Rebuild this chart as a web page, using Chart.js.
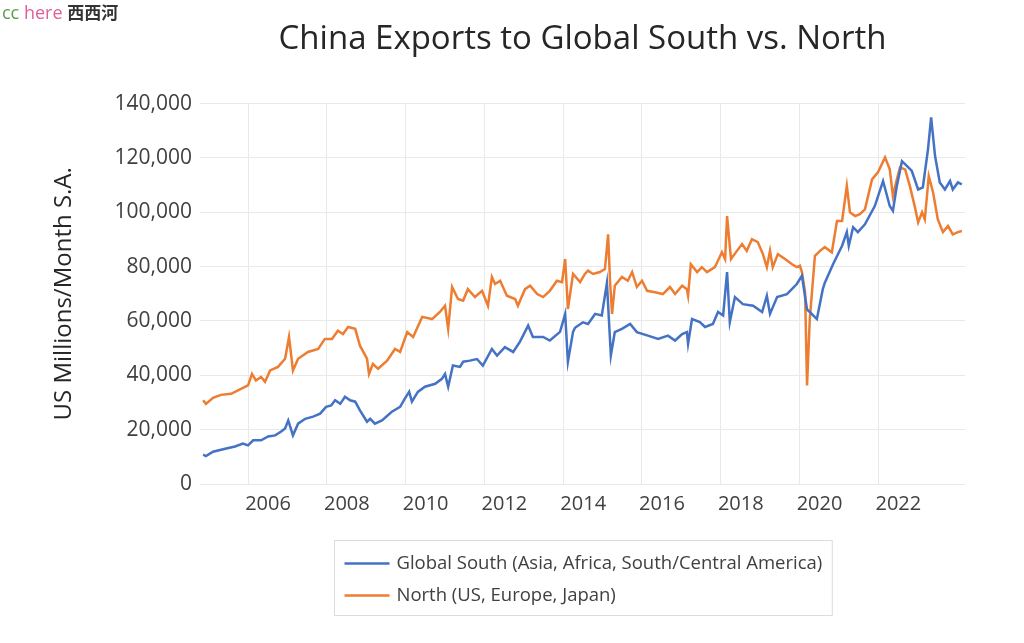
<!DOCTYPE html>
<html lang="en">
<head>
    <meta charset="UTF-8">
    <title>China Exports to Global South vs. North</title>
    <script src="https://cdn.jsdelivr.net/npm/chart.js@4.4.1/dist/chart.umd.min.js"></script>
    <style>
        html, body {
            margin: 0;
            padding: 0;
            background: #fff;
        }
        .wrap {
            position: relative;
            width: 1024px;
            height: 643px;
        }
        .mark {
            position: absolute;
            left: 2px;
            top: 0px;
            font-family: "Open Sans", sans-serif;
            font-size: 18px;
            line-height: 24px;
        }
        .mark .cc { color: #5a9e4b; }
        .mark .here { color: #e0609a; }
        .mark .cn { color: #333; font-family: "Noto Sans CJK SC", sans-serif; font-weight: 700; font-size: 17px; }
    </style>
</head>
<body>
<div class="wrap">
    <div class="mark"><span class="cc">cc</span> <span class="here">here</span> <span class="cn">西西河</span></div>
    <canvas id="chart" width="1024" height="643"></canvas>
</div>
<script>
    // x = decimal year
    const southYears = [2004.86, 2004.93, 2005.11, 2005.42, 2005.67, 2005.87, 2006.00, 2006.13, 2006.33, 2006.51,
        2006.69, 2006.84, 2006.94, 2007.02, 2007.14, 2007.27, 2007.45, 2007.65, 2007.83, 2007.98,
        2008.11, 2008.21, 2008.34, 2008.46, 2008.59, 2008.72, 2008.84, 2009.02, 2009.10, 2009.22,
        2009.40, 2009.65, 2009.86, 2009.98, 2010.09, 2010.16, 2010.31, 2010.49, 2010.75, 2010.92,
        2011.00, 2011.08, 2011.20, 2011.38, 2011.46, 2011.63, 2011.81, 2011.96, 2012.19, 2012.32,
        2012.52, 2012.73, 2012.90, 2013.11, 2013.23, 2013.49, 2013.66, 2013.92, 2014.05, 2014.12,
        2014.25, 2014.30, 2014.50, 2014.63, 2014.81, 2014.98, 2015.11, 2015.21, 2015.31, 2015.49,
        2015.70, 2015.87, 2016.15, 2016.41, 2016.66, 2016.84, 2017.02, 2017.14, 2017.17, 2017.27,
        2017.47, 2017.60, 2017.80, 2017.93, 2018.06, 2018.16, 2018.23, 2018.36, 2018.56, 2018.82,
        2019.05, 2019.17, 2019.25, 2019.43, 2019.68, 2019.93, 2020.06, 2020.19, 2020.26, 2020.44,
        2020.59, 2020.64, 2020.85, 2021.08, 2021.20, 2021.25, 2021.36, 2021.48, 2021.66, 2021.91,
        2022.12, 2022.29, 2022.37, 2022.47, 2022.60, 2022.73, 2022.85, 2023.01, 2023.13, 2023.26,
        2023.34, 2023.44, 2023.56, 2023.69, 2023.82, 2023.89, 2024.02, 2024.12];
    const southValues = [10800, 10300, 11900, 13000, 13800, 14900, 14200, 16100, 16100, 17500,
        17900, 19300, 20400, 23400, 17900, 22200, 24000, 24800, 25900, 28400,
        28900, 30800, 29500, 32100, 30800, 30300, 27100, 22900, 24000, 22200,
        23400, 26600, 28400, 31400, 33900, 30300, 33900, 35800, 36900, 38700,
        40500, 35800, 43600, 43100, 45000, 45400, 46000, 43600, 49700, 47300,
        50400, 48600, 52300, 58300, 54100, 54100, 52800, 56000, 62600, 45000,
        56000, 57500, 59500, 58900, 62600, 62000, 74000, 47300, 55900, 57100,
        58900, 55900, 54600, 53400, 54600, 52800, 55200, 55900, 51600, 60700,
        59600, 57800, 58900, 63300, 62000, 78000, 59600, 68800, 66200, 65600,
        63300, 69300, 62600, 68800, 69900, 73600, 76600, 64200, 63300, 60700,
        71700, 74000, 80900, 87700, 92700, 87700, 94500, 92700, 95600, 102300,
        111500, 102300, 100500, 109700, 118800, 117000, 115200, 108400, 109200, 123100,
        134900, 120700, 111000, 108400, 111500, 108400, 111000, 110300];

    const northYears = [2004.86, 2004.93, 2005.11, 2005.31, 2005.57, 2005.82, 2006.00, 2006.10, 2006.20, 2006.33,
        2006.43, 2006.56, 2006.76, 2006.94, 2007.04, 2007.14, 2007.27, 2007.52, 2007.78, 2007.95,
        2008.13, 2008.28, 2008.41, 2008.54, 2008.72, 2008.84, 2009.02, 2009.07, 2009.17, 2009.30,
        2009.53, 2009.73, 2009.86, 2010.04, 2010.19, 2010.42, 2010.67, 2010.87, 2011.00, 2011.08,
        2011.18, 2011.33, 2011.46, 2011.58, 2011.76, 2011.94, 2012.09, 2012.19, 2012.27, 2012.40,
        2012.57, 2012.78, 2012.85, 2013.03, 2013.16, 2013.34, 2013.49, 2013.66, 2013.84, 2013.97,
        2014.05, 2014.12, 2014.25, 2014.43, 2014.55, 2014.63, 2014.76, 2014.93, 2015.06, 2015.14,
        2015.19, 2015.24, 2015.31, 2015.49, 2015.64, 2015.75, 2015.87, 2016.00, 2016.13, 2016.33,
        2016.53, 2016.71, 2016.84, 2017.02, 2017.14, 2017.17, 2017.24, 2017.40, 2017.52, 2017.65,
        2017.85, 2018.03, 2018.11, 2018.16, 2018.26, 2018.41, 2018.54, 2018.66, 2018.79, 2018.94,
        2019.07, 2019.17, 2019.25, 2019.32, 2019.45, 2019.63, 2019.81, 2019.93, 2020.01, 2020.06,
        2020.14, 2020.19, 2020.26, 2020.39, 2020.52, 2020.64, 2020.77, 2020.82, 2020.95, 2021.08,
        2021.20, 2021.28, 2021.41, 2021.53, 2021.66, 2021.84, 2021.99, 2022.17, 2022.29, 2022.37,
        2022.47, 2022.55, 2022.68, 2022.80, 2022.93, 2023.01, 2023.11, 2023.18, 2023.28, 2023.39,
        2023.51, 2023.64, 2023.77, 2023.89, 2024.02, 2024.12];
    const northValues = [30800, 29500, 31700, 32800, 33200, 35000, 36300, 40500, 38100, 39400,
        37600, 41800, 43100, 46100, 54100, 41800, 46100, 48600, 49700, 53400,
        53400, 56400, 55200, 57800, 57100, 50900, 46100, 40500, 44200, 42400,
        45400, 49700, 48600, 55900, 54100, 61500, 60700, 63300, 65600, 57100,
        72500, 68100, 67500, 71700, 68800, 71100, 65600, 76200, 73600, 74800,
        69300, 68100, 65600, 71700, 73000, 69900, 68800, 71100, 74800, 74300,
        82800, 64400, 77300, 74300, 77300, 78500, 77300, 78000, 79100, 91900,
        74300, 62600, 73000, 76200, 74800, 78000, 72500, 74800, 71100, 70600,
        69900, 72500, 69900, 73000, 71700, 69300, 80900, 78000, 79800, 78000,
        79800, 85300, 82800, 98600, 82800, 85800, 88300, 85800, 90100, 89000,
        84600, 79800, 85800, 79800, 84600, 82800, 80900, 79800, 80300, 78000,
        70600, 36300, 60700, 84000, 85800, 87200, 85800, 85300, 96800, 96800,
        109700, 100000, 98600, 99300, 101100, 112100, 114700, 120200, 115800, 106000,
        112100, 116500, 115800, 109700, 101800, 96300, 100000, 97400, 113300, 107300,
        97400, 92700, 95000, 91900, 92700, 93100];

    const xTickYears = [2006, 2008, 2010, 2012, 2014, 2016, 2018, 2020, 2022];
    const yTicks = [0, 20000, 40000, 60000, 80000, 100000, 120000, 140000];

    const seriesNames = ['Global South (Asia, Africa, South/Central America)', 'North (US, Europe, Japan)'];
    const seriesColors = ['#4472c4', '#ed7d31'];

    const pairs = (xs, ys) => xs.map((x, i) => ({ x: x, y: ys[i] }));

    // legend box under the chart, two rows, left aligned
    const boxLegend = {
        id: 'boxLegend',
        afterDraw(chart) {
            const ctx = chart.ctx;
            const area = chart.chartArea;
            ctx.save();
            ctx.font = '18.5px "Open Sans", sans-serif';
            let maxW = 0;
            chart.data.datasets.forEach(ds => { maxW = Math.max(maxW, ctx.measureText(ds.label).width); });
            const w = maxW + 72;
            const left = Math.round((area.left + area.right) / 2 - w / 2) + 0.5;
            const top = 540.5;
            ctx.strokeStyle = '#dcdcdc';
            ctx.lineWidth = 1;
            ctx.strokeRect(left, top, w, 75);
            chart.data.datasets.forEach((ds, i) => {
                const y = top + 23 + i * 32;
                ctx.strokeStyle = ds.borderColor;
                ctx.lineWidth = 2.5;
                ctx.beginPath();
                ctx.moveTo(left + 10, y);
                ctx.lineTo(left + 55, y);
                ctx.stroke();
                ctx.fillStyle = '#404040';
                ctx.textBaseline = 'middle';
                ctx.fillText(ds.label, left + 62, y);
            });
            ctx.restore();
        }
    };

    new Chart(document.getElementById('chart'), {
        type: 'line',
        data: {
            datasets: [{
                label: seriesNames[0],
                data: pairs(southYears, southValues),
                borderColor: seriesColors[0],
                borderWidth: 2.5,
                pointRadius: 0,
                tension: 0
            }, {
                label: seriesNames[1],
                data: pairs(northYears, northValues),
                borderColor: seriesColors[1],
                borderWidth: 2.5,
                pointRadius: 0,
                tension: 0
            }]
        },
        options: {
            responsive: false,
            animation: false,
            layout: {
                padding: { left: 0, right: 59, top: 0, bottom: 119 }
            },
            plugins: {
                legend: { display: false },
                tooltip: { enabled: false },
                title: {
                    display: true,
                    fullSize: false,
                    text: 'China Exports to Global South vs. North',
                    color: '#262626',
                    font: { family: '"Open Sans", sans-serif', size: 33, weight: 'normal' },
                    padding: { top: 20, bottom: 44 }
                }
            },
            scales: {
                x: {
                    type: 'linear',
                    min: 2004.78,
                    max: 2024.2,
                    afterBuildTicks: s => { s.ticks = xTickYears.map(v => ({ value: v })); },
                    grid: { color: '#e9e9e9', drawTicks: false },
                    border: { display: false },
                    ticks: {
                        callback: v => String(v),
                        labelOffset: 20,
                        padding: 8,
                        maxRotation: 0,
                        color: '#404040',
                        font: { family: '"Open Sans", sans-serif', size: 20 }
                    }
                },
                y: {
                    min: 0,
                    max: 140000,
                    afterBuildTicks: s => { s.ticks = yTicks.map(v => ({ value: v })); },
                    afterFit: s => { s.width = 200; },
                    grid: { color: '#e9e9e9', drawTicks: false },
                    border: { display: false },
                    ticks: {
                        padding: 8,
                        color: '#404040',
                        font: { family: '"Open Sans", sans-serif', size: 21 }
                    },
                    title: {
                        display: true,
                        text: 'US Millions/Month S.A.',
                        color: '#262626',
                        font: { family: '"Open Sans", sans-serif', size: 24 },
                        padding: { top: 50, bottom: 0 }
                    }
                }
            }
        },
        plugins: [boxLegend]
    });
</script>
</body>
</html>
